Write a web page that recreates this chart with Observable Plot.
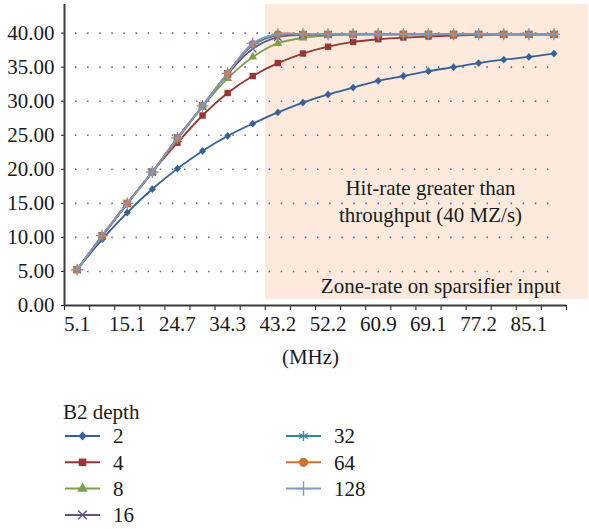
<!DOCTYPE html>
<html><head><meta charset="utf-8">
<script src="https://cdn.jsdelivr.net/npm/d3@7"></script>
<script src="https://cdn.jsdelivr.net/npm/@observablehq/plot@0.6"></script>
<style>
body{margin:0;background:#fff;font-family:"Liberation Serif",serif;}
#chart svg{display:block}
</style></head><body>
<div id="chart"></div>
<div id="legend"></div>
<script>
// ---- data ----
const xCats = ["5.1","10.1","15.1","19.9","24.7","29.5","34.3","38.8","43.2","47.7","52.2","56.6","60.9","65.0","69.1","73.2","77.2","81.2","85.1","89.0"];
const xLabelCats = ["5.1","15.1","24.7","34.3","43.2","52.2","60.9","69.1","77.2","85.1"];
const depths = ["2","4","8","16","32","64","128"];
const d2   = [5.25, 9.7, 13.65, 17.1, 20.1, 22.7, 24.9, 26.7, 28.35, 29.8, 31.0, 32.0, 33.0, 33.7, 34.4, 35.0, 35.6, 36.1, 36.5, 37.0];
const d4   = [5.25, 10.2, 14.9, 19.6, 23.9, 27.9, 31.2, 33.7, 35.6, 37.0, 38.0, 38.7, 39.1, 39.35, 39.5, 39.65, 39.75, 39.8, 39.8, 39.8];
const d8   = [5.25, 10.2, 15.0, 19.6, 24.4, 29.2, 33.35, 36.5, 38.5, 39.3, 39.65, 39.8, 39.8, 39.8, 39.8, 39.8, 39.8, 39.8, 39.8, 39.8];
const d16  = [5.25, 10.25, 15.0, 19.6, 24.6, 29.3, 34.0, 37.7, 39.4, 39.75, 39.8, 39.8, 39.8, 39.8, 39.8, 39.8, 39.8, 39.8, 39.8, 39.8];
const d32  = [5.25, 10.25, 15.0, 19.6, 24.6, 29.3, 34.1, 38.2, 39.7, 39.8, 39.8, 39.8, 39.8, 39.8, 39.8, 39.8, 39.8, 39.8, 39.8, 39.8];
const d64  = [5.25, 10.25, 15.0, 19.6, 24.6, 29.3, 34.1, 38.4, 39.85, 39.85, 39.85, 39.85, 39.85, 39.85, 39.85, 39.85, 39.85, 39.85, 39.85, 39.85];
const d128 = [5.25, 10.25, 15.0, 19.6, 24.6, 29.3, 34.1, 38.5, 39.85, 39.85, 39.85, 39.85, 39.85, 39.85, 39.85, 39.85, 39.85, 39.85, 39.85, 39.85];
const seriesValues = [d2, d4, d8, d16, d32, d64, d128];
const yTicks = [0, 5, 10, 15, 20, 25, 30, 35, 40];
const yMax = 44.2;
const zoneFrom = "43.2";
const annotation1 = "Hit-rate greater than\nthroughput (40 MZ/s)";
const annotation2 = "Zone-rate on sparsifier input";
const xTitle = "(MHz)";
const legendTitle = "B2 depth";

// ---- styles ----
const FS = 21;
const colors = ["#35609e", "#9a3535", "#7da14a", "#66508a", "#2e8aa0", "#d2702f", "#7f98c4"];
const diamondSym = {draw(c, s){const h = Math.sqrt(s/2); c.moveTo(0,-h); c.lineTo(h*0.9,0); c.lineTo(0,h); c.lineTo(-h*0.9,0); c.closePath();}};
const symbols = [diamondSym, d3.symbolSquare, d3.symbolTriangle, d3.symbolTimes, d3.symbolAsterisk, d3.symbolCircle, d3.symbolPlus];
const filled = [true, true, true, false, false, true, false];
const radii = [3.1, 3.6, 3.3, 3.4, 4.0, 3.9, 4.0];

const rows = depths.flatMap((dep, si) => seriesValues[si].map((v, i) => ({depth: dep, si, x: i + 0.5, v})));

const marks = [
  Plot.rect([zoneFrom], {x1: d => xCats.indexOf(d), x2: () => xCats.length, y1: () => 0, y2: () => yMax, fill: "#fdeadc", insetRight: -22, insetBottom: 6}),
  Plot.ruleY(yTicks.filter(v => v > 0), {stroke: "#6464aa", strokeWidth: 1.6, strokeDasharray: "1.5 10.6", insetLeft: 11, insetRight: 8}),
  Plot.text([annotation1], {text: d => d, frameAnchor: "right", dx: -136, dy: 45, fontSize: FS, lineHeight: 1.25, textAnchor: "middle", fill: "#1a1a1a"}),
  Plot.text([annotation2], {text: d => d, frameAnchor: "bottom-right", dx: -6, dy: -19, fontSize: FS, textAnchor: "end", lineAnchor: "middle", fill: "#1a1a1a"}),
  Plot.text([xTitle], {text: d => d, frameAnchor: "bottom", dx: -5, dy: 52, fontSize: FS, lineAnchor: "middle", fill: "#1a1a1a"}),
];
depths.forEach((dep, si) => {
  const data = rows.filter(r => r.si === si);
  marks.push(Plot.line(data, {x: "x", y: "v", stroke: colors[si], strokeWidth: 1.8, curve: "catmull-rom"}));
  marks.push(Plot.dot(data, filled[si]
    ? {x: "x", y: "v", symbol: symbols[si], r: radii[si], fill: colors[si], stroke: "none"}
    : {x: "x", y: "v", symbol: symbols[si], r: radii[si], fill: "none", stroke: colors[si], strokeWidth: 1.3}));
});
marks.push(
  Plot.axisY({ticks: yTicks, tickFormat: d3.format(".2f"), tickSize: 3, tickPadding: 7, fontSize: FS, label: null}),
  Plot.axisX({ticks: d3.range(xCats.length + 1), tickFormat: () => "", tickSize: 5, label: null}),
  Plot.axisX({ticks: xLabelCats.map(c => xCats.indexOf(c) + 0.5), tickFormat: v => xCats[v - 0.5], tickSize: 0, tickPadding: 11, fontSize: FS, label: null}),
  Plot.ruleX([0], {y1: () => 0, y2: () => yMax, stroke: "#3a3a3a", strokeWidth: 2}),
  Plot.ruleY([0], {stroke: "#3a3a3a", strokeWidth: 2})
);

const chart = Plot.plot({
  width: 589, height: 375,
  marginLeft: 64, marginRight: 23, marginTop: 4, marginBottom: 70,
  x: {domain: [0, xCats.length]},
  y: {domain: [0, yMax]},
  style: {fontFamily: "Liberation Serif", fontSize: FS + "px", color: "#1a1a1a", background: "#fff"},
  marks
});
document.getElementById("chart").append(chart);

// ---- legend (below the chart) ----
const lg = d3.select("#legend").append("svg").attr("width", 589).attr("height", 154)
  .style("display", "block").style("font-family", "Liberation Serif").style("font-size", FS + "px");
lg.append("text").attr("x", 63).attr("y", 37).attr("dy", "0.35em").attr("fill", "#1a1a1a").text(legendTitle);
depths.forEach((dep, si) => {
  const col = si < 4 ? 0 : 1, row = si < 4 ? si : si - 4;
  const x0 = col === 0 ? 65 : 286, y0 = 61 + row * 26.3;
  const g = lg.append("g");
  g.append("line").attr("x1", x0).attr("x2", x0 + 35).attr("y1", y0).attr("y2", y0).attr("stroke", colors[si]).attr("stroke-width", 2);
  const p = g.append("path").attr("transform", `translate(${x0 + 17.5},${y0})`)
    .attr("d", d3.symbol(symbols[si], Math.PI * radii[si] * radii[si] * 1.4)());
  if (filled[si]) p.attr("fill", colors[si]); else p.attr("fill", "none").attr("stroke", colors[si]).attr("stroke-width", 1.4);
  g.append("text").attr("x", x0 + 48).attr("y", y0).attr("dy", "0.35em").attr("fill", "#1a1a1a").text(dep);
});
</script>
</body></html>
